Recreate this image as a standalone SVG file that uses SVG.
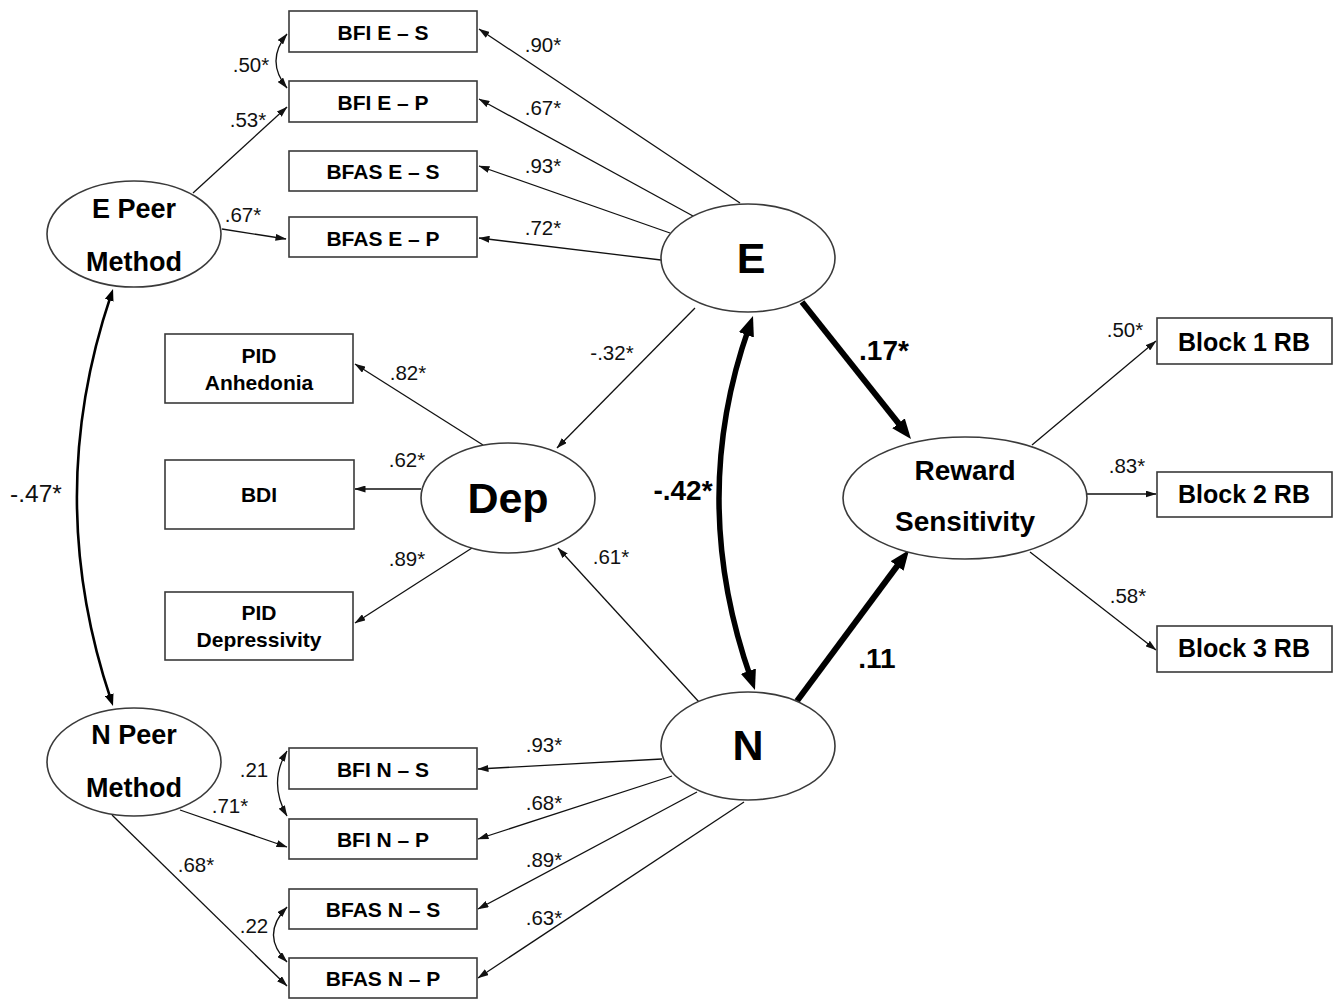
<svg xmlns="http://www.w3.org/2000/svg" width="1341" height="1001" viewBox="0 0 1341 1001">
<style>
.box{fill:#fff;stroke:#3a3a3a;stroke-width:1.6}
.ell{fill:#fff;stroke:#3a3a3a;stroke-width:1.6}
.t{font-family:"Liberation Sans",Arial,sans-serif;font-weight:bold;fill:#000;text-anchor:middle}
.n{font-family:"Liberation Sans",Arial,sans-serif;fill:#111;text-anchor:middle;font-size:20.5px}
.nb{font-family:"Liberation Sans",Arial,sans-serif;font-weight:bold;fill:#000;text-anchor:middle;font-size:28px}
.ln{fill:none;stroke:#111;stroke-width:1.3;marker-end:url(#ah)}
.dc{fill:none;stroke:#111;stroke-width:1.3;marker-start:url(#ah);marker-end:url(#ah)}
.thk{fill:none;stroke:#000;stroke-width:6;marker-end:url(#ahB)}
</style>
<defs>
<marker id="ah" viewBox="0 0 11 7" refX="10.5" refY="3.5" markerWidth="11" markerHeight="7" markerUnits="userSpaceOnUse" orient="auto-start-reverse"><path d="M0,0 L11,3.5 L0,7 z" fill="#111"/></marker>
<marker id="ahM" viewBox="0 0 12 9" refX="5" refY="4.5" markerWidth="12" markerHeight="9" markerUnits="userSpaceOnUse" orient="auto-start-reverse"><path d="M0,0 L12,4.5 L0,9 z" fill="#000"/></marker>
<marker id="ahB" viewBox="0 0 20 16" refX="8" refY="8" markerWidth="20" markerHeight="16" markerUnits="userSpaceOnUse" orient="auto-start-reverse"><path d="M0,0 L20,8 L0,16 z" fill="#000"/></marker>
</defs>
<rect width="1341" height="1001" fill="#fff"/>
<g id="connectors">
<path class="ln" d="M740,203 L479,29"/>
<path class="ln" d="M693,216 L479,99"/>
<path class="ln" d="M670,233 L479,166"/>
<path class="ln" d="M661,260 L479,238"/>
<path class="ln" d="M193,193 L287,107"/>
<path class="ln" d="M222,229 L286,239"/>
<path class="ln" d="M695,308 L557,448"/>
<path class="ln" d="M699,702 L558,548"/>
<path class="ln" d="M483,445 L355,364"/>
<path class="ln" d="M421,489 L355,489"/>
<path class="ln" d="M472,548 L355,623"/>
<path class="ln" d="M1032,445 L1156,341"/>
<path class="ln" d="M1087,494 L1156,494"/>
<path class="ln" d="M1030,552 L1156,650"/>
<path class="ln" d="M662,759 L478,769"/>
<path class="ln" d="M672,776 L478,839"/>
<path class="ln" d="M697,792 L478,909"/>
<path class="ln" d="M744,802 L478,978"/>
<path class="ln" d="M180,810 L287,847"/>
<path class="ln" d="M112,815 L287,986"/>
<path class="dc" d="M287,34 Q265,61 287,88"/>
<path class="dc" d="M287,751 Q268,783 287,816"/>
<path class="dc" d="M287,907 Q260,935 287,962"/>
<path d="M110.8,295.6 Q43,497 110.8,699.4" fill="none" stroke="#000" stroke-width="2.6" marker-start="url(#ahM)" marker-end="url(#ahM)"/>
<path d="M749,327.3 Q688,500 751,678.7" fill="none" stroke="#000" stroke-width="5.5" marker-start="url(#ahB)" marker-end="url(#ahB)"/>
<path class="thk" d="M802,302 L903.5,429.6"/>
<path class="thk" d="M797,701 L901.9,559.6"/>
</g>
<g id="labels">
<text class="n" x="543" y="52">.90*</text>
<text class="n" x="543" y="115">.67*</text>
<text class="n" x="543" y="173">.93*</text>
<text class="n" x="543" y="235">.72*</text>
<text class="n" x="248" y="127">.53*</text>
<text class="n" x="243" y="222">.67*</text>
<text class="n" x="251" y="72">.50*</text>
<text class="n" x="36" y="502" style="font-size:24.5px">-.47*</text>
<text class="n" x="408" y="380">.82*</text>
<text class="n" x="407" y="467">.62*</text>
<text class="n" x="407" y="566">.89*</text>
<text class="n" x="612" y="360">-.32*</text>
<text class="n" x="611" y="564">.61*</text>
<text class="nb" x="683" y="500">-.42*</text>
<text class="nb" x="884" y="360">.17*</text>
<text class="nb" x="877" y="668">.11</text>
<text class="n" x="1125" y="337">.50*</text>
<text class="n" x="1127" y="473">.83*</text>
<text class="n" x="1128" y="603">.58*</text>
<text class="n" x="544" y="752">.93*</text>
<text class="n" x="544" y="810">.68*</text>
<text class="n" x="544" y="867">.89*</text>
<text class="n" x="544" y="925">.63*</text>
<text class="n" x="254" y="777">.21</text>
<text class="n" x="230" y="813">.71*</text>
<text class="n" x="196" y="872">.68*</text>
<text class="n" x="254" y="933">.22</text>
</g>
<g id="bfi-e-s"><rect class="box" x="289" y="11" width="188" height="41"/><text class="t" x="383" y="40" font-size="21">BFI E – S</text></g>
<g id="bfi-e-p"><rect class="box" x="289" y="81" width="188" height="41"/><text class="t" x="383" y="110" font-size="21">BFI E – P</text></g>
<g id="bfas-e-s"><rect class="box" x="289" y="151" width="188" height="40"/><text class="t" x="383" y="179" font-size="21">BFAS E – S</text></g>
<g id="bfas-e-p"><rect class="box" x="289" y="217" width="188" height="40"/><text class="t" x="383" y="246" font-size="21">BFAS E – P</text></g>
<g id="bfi-n-s"><rect class="box" x="289" y="748" width="188" height="41"/><text class="t" x="383" y="777" font-size="21">BFI N – S</text></g>
<g id="bfi-n-p"><rect class="box" x="289" y="819" width="188" height="40"/><text class="t" x="383" y="847" font-size="21">BFI N – P</text></g>
<g id="bfas-n-s"><rect class="box" x="289" y="889" width="188" height="40"/><text class="t" x="383" y="917" font-size="21">BFAS N – S</text></g>
<g id="bfas-n-p"><rect class="box" x="289" y="958" width="188" height="40"/><text class="t" x="383" y="986" font-size="21">BFAS N – P</text></g>
<g id="pid-anhedonia"><rect class="box" x="165" y="334" width="188" height="69"/><text class="t" x="259" y="363" font-size="21">PID</text><text class="t" x="259" y="390" font-size="21">Anhedonia</text></g>
<g id="bdi"><rect class="box" x="165" y="460" width="189" height="69"/><text class="t" x="259" y="502" font-size="21">BDI</text></g>
<g id="pid-depressivity"><rect class="box" x="165" y="592" width="188" height="68"/><text class="t" x="259" y="620" font-size="21">PID</text><text class="t" x="259" y="647" font-size="21">Depressivity</text></g>
<g id="block1"><rect class="box" x="1157" y="318" width="175" height="46"/><text class="t" x="1244" y="351" font-size="25">Block 1 RB</text></g>
<g id="block2"><rect class="box" x="1157" y="472" width="175" height="45"/><text class="t" x="1244" y="503" font-size="25">Block 2 RB</text></g>
<g id="block3"><rect class="box" x="1157" y="626" width="175" height="46"/><text class="t" x="1244" y="657" font-size="25">Block 3 RB</text></g>
<g id="e-peer"><ellipse class="ell" cx="134" cy="234" rx="87" ry="53"/><text class="t" x="134" y="218" font-size="27">E Peer</text><text class="t" x="134" y="271" font-size="27">Method</text></g>
<g id="n-peer"><ellipse class="ell" cx="134" cy="762" rx="87" ry="54"/><text class="t" x="134" y="744" font-size="27">N Peer</text><text class="t" x="134" y="797" font-size="27">Method</text></g>
<g id="e"><ellipse class="ell" cx="748" cy="258" rx="87" ry="54"/><text class="t" x="751" y="273" font-size="43">E</text></g>
<g id="n"><ellipse class="ell" cx="748" cy="746" rx="87" ry="54"/><text class="t" x="748" y="760" font-size="43">N</text></g>
<g id="dep"><ellipse class="ell" cx="508" cy="498" rx="87" ry="55"/><text class="t" x="508" y="513" font-size="43">Dep</text></g>
<g id="reward"><ellipse class="ell" cx="965" cy="498" rx="122" ry="61"/><text class="t" x="965" y="480" font-size="28">Reward</text><text class="t" x="965" y="531" font-size="28">Sensitivity</text></g>
</svg>
